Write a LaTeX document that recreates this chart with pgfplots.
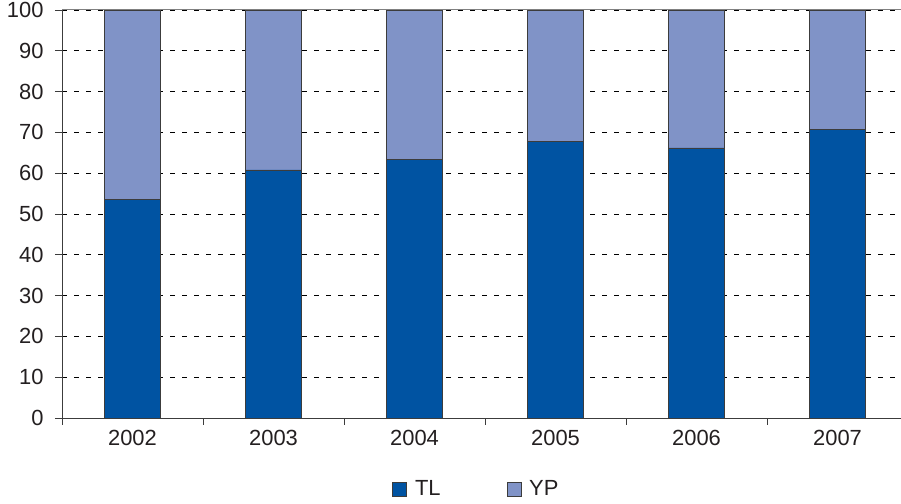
\documentclass[border=0pt]{standalone}
\usepackage{fontspec}
\setmainfont{Liberation Sans}
\usepackage{pgfplots}
\pgfplotsset{compat=1.18}
\definecolor{tlblue}{RGB}{0,83,162}
\definecolor{ypblue}{RGB}{128,147,199}
\definecolor{txt}{RGB}{35,31,32}
\definecolor{axgray}{RGB}{60,60,60}
\begin{document}
\begin{tikzpicture}
\useasboundingbox (0,0) rectangle (901bp,504bp);
\begin{axis}[
  at={(62bp,86bp)}, anchor=south west,
  scale only axis, width=839bp, height=408bp,
  ybar stacked, bar width=56bp,
  xmin=-0.5, xmax=5.45, ymin=0, ymax=100,
  axis x line=bottom, axis y line=left,
  axis line style={axgray, line width=1pt, -},
  xtick={0,1,2,3,4,5},
  xticklabels={2002,2003,2004,2005,2006,2007},
  minor xtick={-0.5,0.5,1.5,2.5,3.5,4.5,5.5},
  ytick={0,10,...,100},
  tick align=outside,
  major tick length=7bp, minor tick length=7bp,
  x tick style={draw=none},
  minor x tick style={draw=axgray, line width=0.8pt},
  y tick style={axgray, line width=0.8pt},
  ymajorgrids,
  major grid style={black, line width=0.8pt, dash pattern=on 5bp off 7bp},
  /pgf/number format/assume math mode=true,
  ticklabel style={font=\fontsize{22}{26}\selectfont, text=txt},
  xticklabel style={yshift=-2bp},
  yticklabel style={xshift=-8bp},
  legend style={at={(0.494,-0.174)}, anchor=center, draw=none, fill=none,
    font=\fontsize{22}{26}\selectfont, text=txt,
    legend columns=2, /tikz/every even column/.append style={column sep=64bp}},
  legend image code/.code={\draw[#1, line width=0.6pt] (0bp,-7bp) rectangle (14bp,7bp); \path (20bp,0bp);},
  after end axis/.code={\draw[gray, line width=1pt] (rel axis cs:0,1) -- (rel axis cs:1,1);},
]
\addplot[fill=tlblue, draw=axgray, line width=0.6pt] coordinates {(0,53.6) (1,60.8) (2,63.4) (3,67.8) (4,66.2) (5,70.8)};
\addplot[fill=ypblue, draw=axgray, line width=0.6pt] coordinates {(0,46.4) (1,39.2) (2,36.6) (3,32.2) (4,33.8) (5,29.2)};
\legend{TL,YP}
\end{axis}
\end{tikzpicture}
\end{document}
